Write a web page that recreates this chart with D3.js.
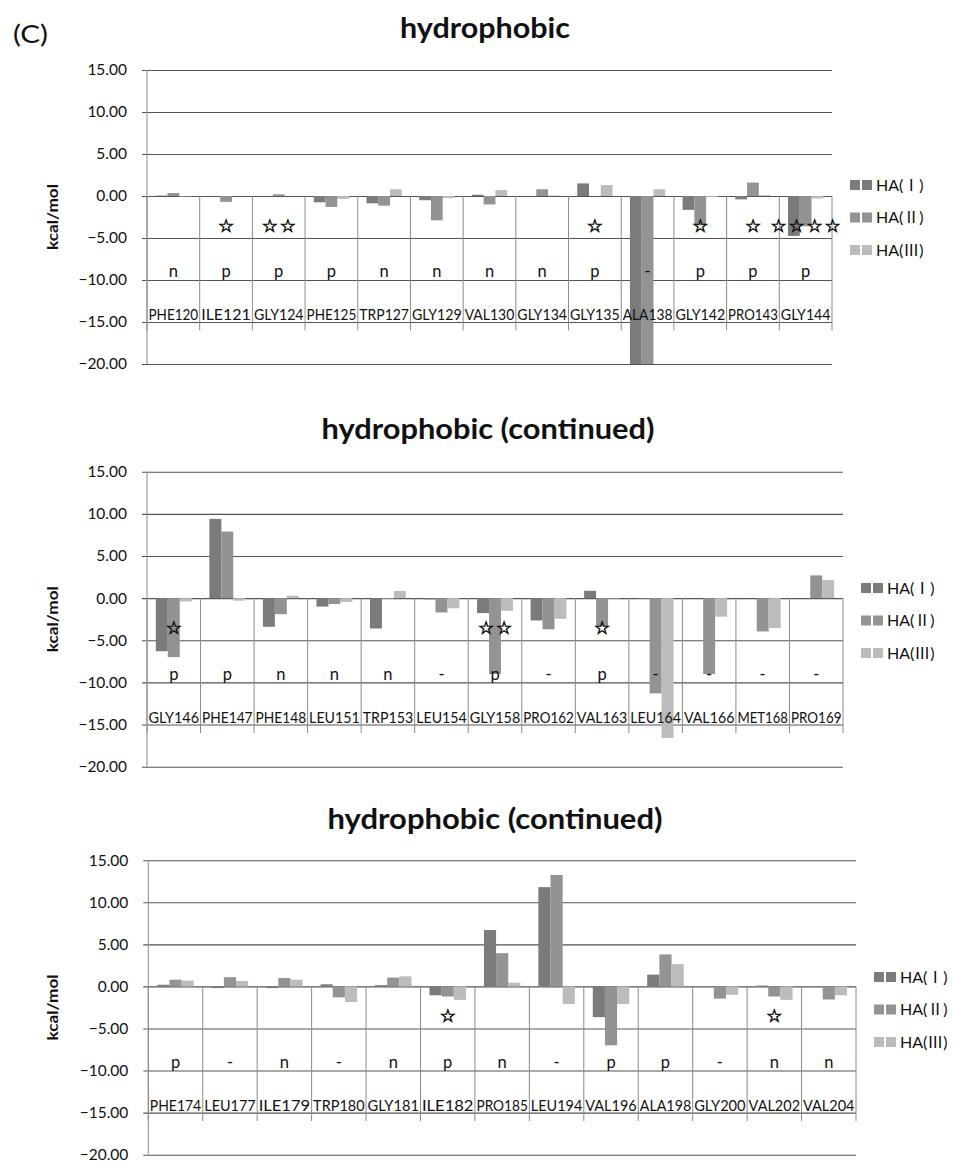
<!DOCTYPE html>
<html><head><meta charset="utf-8">
<script src="https://cdn.jsdelivr.net/npm/d3@7"></script>
<style>body{margin:0;background:#fff}</style>
</head><body>
<svg id="c" width="953" height="1162" xmlns="http://www.w3.org/2000/svg"></svg>
<script>
// ---------- data ----------
const yTicks = [15, 10, 5, 0, -5, -10, -15, -20];
const seriesNumerals = ["Ⅰ", "Ⅱ", "Ⅲ"];
const titles = ["hydrophobic", "hydrophobic (continued)", "hydrophobic (continued)"];
const panelLetter = "(C)";
const yLabel = "kcal/mol";

const cats1  = ["PHE120","ILE121","GLY124","PHE125","TRP127","GLY129","VAL130","GLY134","GLY135","ALA138","GLY142","PRO143","GLY144"];
const haI_1  = [0.05, 0.0, 0.0, -0.75, -0.87, -0.5, 0.15, 0.0, 1.5, -20, -1.65, -0.4, -4.75];
const haII_1 = [0.35, -0.7, 0.2, -1.3, -1.15, -2.9, -1.0, 0.8, 0.0, -20, -3.5, 1.6, -3.6];
const haIII_1= [-0.05, 0.0, 0.0, -0.35, 0.8, -0.25, 0.7, 0.05, 1.3, 0.8, -0.1, 0.1, -0.3];
const type1  = ["n","p","p","p","n","n","n","n","p","-","p","p","p"];
const stars1 = [0,1,2,0,0,0,0,0,1,0,1,1,4];

const cats2  = ["GLY146","PHE147","PHE148","LEU151","TRP153","LEU154","GLY158","PRO162","VAL163","LEU164","VAL166","MET168","PRO169"];
const haI_2  = [-6.3, 9.4, -3.4, -1.0, -3.6, -0.15, -1.78, -2.65, 0.87, -0.1, 0.0, 0.0, 0.0];
const haII_2 = [-7.0, 7.9, -1.9, -0.7, -0.1, -1.7, -9.0, -3.7, -3.3, -11.3, -9.0, -3.95, 2.7];
const haIII_2= [-0.4, -0.3, 0.3, -0.45, 0.85, -1.2, -1.5, -2.45, -0.05, -16.6, -2.2, -3.55, 2.15];
const type2  = ["p","p","n","n","n","-","p","-","p","-","-","-","-"];
const stars2 = [1,0,0,0,0,0,2,0,1,0,0,0,0];

const cats3  = ["PHE174","LEU177","ILE179","TRP180","GLY181","ILE182","PRO185","LEU194","VAL196","ALA198","GLY200","VAL202","VAL204"];
const haI_3  = [0.2, -0.2, -0.2, 0.25, 0.15, -1.05, 6.7, 11.8, -3.65, 1.4, 0.0, 0.1, 0.05];
const haII_3 = [0.8, 1.1, 1.0, -1.3, 1.05, -1.2, 3.95, 13.25, -7.0, 3.8, -1.45, -1.2, -1.55];
const haIII_3= [0.7, 0.65, 0.8, -1.85, 1.2, -1.6, 0.45, -2.1, -2.1, 2.65, -1.0, -1.6, -1.05];
const type3  = ["p","-","n","-","n","p","n","-","p","p","-","n","n"];
const stars3 = [0,0,0,0,0,1,0,0,0,0,0,1,0];

// ---------- styling / layout ----------
const seriesColors = ["#7b7b7b", "#939393", "#bcbcbc"];
const latin = "Lato, 'Open Sans', sans-serif";
const panels = [
  {cats:cats1, vals:[haI_1,haII_1,haIII_1], type:type1, stars:stars1, title:titles[0],
   x0:147, x1:832, yTop:70, yBot:364, tx:485, ty:38, tw:170, legY:185},
  {cats:cats2, vals:[haI_2,haII_2,haIII_2], type:type2, stars:stars2, title:titles[1],
   x0:147, x1:843, yTop:471.7, yBot:766.7, tx:488, ty:439, tw:333, legY:588},
  {cats:cats3, vals:[haI_3,haII_3,haIII_3], type:type3, stars:stars3, title:titles[2],
   x0:148.3, x1:856, yTop:860.2, yBot:1154.7, tx:495, ty:829, tw:335, legY:977}
];

const svg = d3.select("#c");
svg.append("rect").attr("width",953).attr("height",1162).attr("fill","#fff");

svg.append("text").attr("x",13).attr("y",43).attr("font-family",latin)
  .attr("font-size",25).attr("fill","#111").attr("textLength",35)
  .attr("lengthAdjust","spacingAndGlyphs").text(panelLetter);

panels.forEach(p => {
  const g = svg.append("g");
  const y = d3.scaleLinear().domain([-20, 15]).range([p.yBot, p.yTop]);
  const x = d3.scaleBand().domain(p.cats).range([p.x0, p.x1]).padding(0);
  const bw = x.bandwidth();
  const xs = d3.scaleBand().domain([0,1,2]).range([0.165*bw, 0.835*bw]).padding(0);

  // title
  g.append("text").attr("x",p.tx).attr("y",p.ty).attr("text-anchor","middle")
    .attr("font-family",latin).attr("font-weight","bold").attr("font-size",28)
    .attr("fill","#111").attr("textLength",p.tw).attr("lengthAdjust","spacingAndGlyphs")
    .text(p.title);

  // y axis with gridlines
  const ax = d3.axisLeft(y).tickValues(yTicks).tickFormat(d3.format(".2f"))
    .tickSize(-(p.x1 - p.x0 + 5)).tickPadding(15);
  const axg = g.append("g").attr("transform",`translate(${p.x0-5},0)`).call(ax);
  axg.select(".domain").remove();
  axg.selectAll(".tick line").attr("stroke","#555").attr("stroke-width",1.1);
  axg.selectAll(".tick text").attr("font-family",latin).attr("font-size",15.5).attr("fill","#111");

  // y axis line
  g.append("line").attr("x1",p.x0).attr("x2",p.x0).attr("y1",y(15)).attr("y2",y(-20))
    .attr("stroke","#8a8a8a");

  // y label
  const ym = (p.yTop + p.yBot)/2;
  g.append("text").attr("transform",`translate(58,${ym}) rotate(-90)`)
    .attr("text-anchor","middle").attr("font-family",latin).attr("font-weight","bold")
    .attr("font-size",16).attr("fill","#111").attr("textLength",66)
    .attr("lengthAdjust","spacingAndGlyphs").text(yLabel);

  // category separators
  d3.range(p.cats.length + 1).forEach(i => {
    const xx = p.x0 + i*bw;
    g.append("line").attr("x1",xx).attr("x2",xx).attr("y1",y(0)).attr("y2",y(-16))
      .attr("stroke","#8a8a8a");
  });

  // bars
  const clamp = v => Math.max(-20, Math.min(15, v));
  p.vals.forEach((arr, s) => {
    g.append("g").selectAll("rect").data(arr).join("rect")
      .attr("x",(d,i)=> x(p.cats[i]) + xs(s))
      .attr("width", xs.bandwidth())
      .attr("y", d => y(Math.max(0, clamp(d))))
      .attr("height", d => Math.abs(y(clamp(d)) - y(0)))
      .attr("fill", seriesColors[s]);
  });

  // type labels
  g.append("g").selectAll("text").data(p.type).join("text")
    .attr("x",(d,i)=> x(p.cats[i]) + bw/2).attr("y", y(-9))
    .attr("dy","0.35em").attr("text-anchor","middle")
    .attr("font-family",latin).attr("font-size",16.5).attr("fill","#111").text(d=>d);

  // category labels (fill their band, as in the reference)
  g.append("g").selectAll("text").data(p.cats).join("text")
    .attr("x", d => x(d) + bw/2).attr("y", y(-14.2))
    .attr("dy","0.35em").attr("text-anchor","middle")
    .attr("font-family",latin).attr("font-size",14.5).attr("fill","#111")
    .attr("textLength", bw - 3).attr("lengthAdjust","spacingAndGlyphs")
    .text(d=>d);

  // stars
  p.stars.forEach((n, i) => {
    for (let k = 0; k < n; k++) {
      g.append("text")
        .attr("x", x(p.cats[i]) + bw/2 + (k - (n-1)/2)*18)
        .attr("y", y(-3.5)).attr("dy","0.35em").attr("text-anchor","middle")
        .attr("font-family","'DejaVu Sans', sans-serif").attr("font-size",18)
        .attr("fill","#111").attr("stroke","#111").attr("stroke-width",0.7).text("☆");
    }
  });

  // legend
  seriesNumerals.forEach((num, s) => {
    const ly = p.legY + s*32.5;
    const lx = p.x1 + 18;
    [0, 12].forEach(off => {
      g.append("rect").attr("x", lx + off).attr("y", ly - 5).attr("width",10).attr("height",10)
        .attr("fill", seriesColors[s]);
    });
    const t = g.append("text").attr("x", lx + 26).attr("y", ly).attr("dy","0.35em")
      .attr("font-family",latin).attr("font-size",16).attr("fill","#111");
    t.append("tspan").text("HA(");
    t.append("tspan").attr("font-family","'Noto Sans CJK JP'").text(num);
    t.append("tspan").text(")");
  });
});
</script>
</body></html>
